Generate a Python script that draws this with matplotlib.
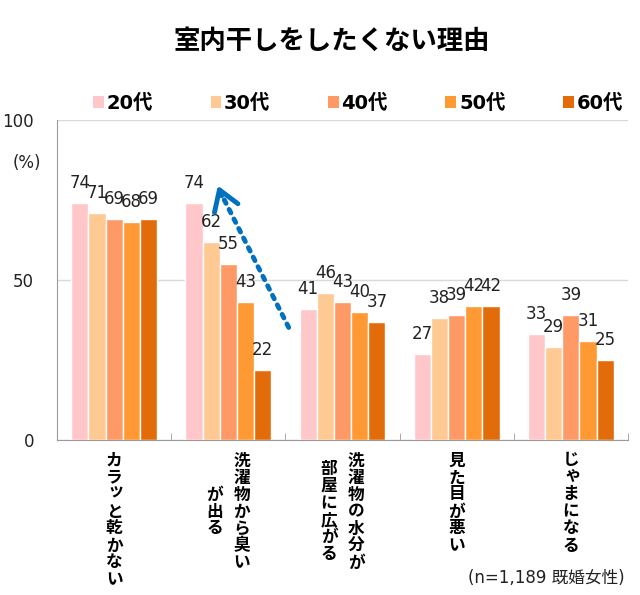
import matplotlib
matplotlib.use('Agg')
import matplotlib.pyplot as plt
from matplotlib.patches import Patch
import numpy as np

plt.rcParams['font.family'] = ['DejaVu Sans', 'Noto Sans CJK JP']

# データ
categories = [['カラッと乾かない'],
              ['洗濯物から臭い', 'が出る'],
              ['洗濯物の水分が', '部屋に広がる'],
              ['見た目が悪い'],
              ['じゃまになる']]
ages = ['20代', '30代', '40代', '50代', '60代']
values = np.array([
    [74, 74, 41, 27, 33],   # 20代
    [71, 62, 46, 38, 29],   # 30代
    [69, 55, 43, 39, 39],   # 40代
    [68, 43, 40, 42, 31],   # 50代
    [69, 22, 37, 42, 25],   # 60代
])
colors = ['#FFC7C9', '#FFC994', '#FF9966', '#FF9933', '#E36C0A']
yticks = [0, 50, 100]

W, H = 640, 595
fig = plt.figure(figsize=(W / 100, H / 100), dpi=100)
ax = fig.add_axes([57 / W, (H - 440) / H, (628 - 57) / W, 320 / H])

x = np.arange(len(categories))
width = 0.15

for j, age in enumerate(ages):
    bars = ax.bar(x + (j - 2) * width, values[j], width, color=colors[j],
                  edgecolor='white', linewidth=1, label=age, zorder=3)
    for rect, v in zip(bars, values[j]):
        ax.annotate(str(v), xy=(rect.get_x() + rect.get_width() / 2, v),
                    xytext=(0, 15), textcoords='offset pixels',
                    ha='center', va='baseline', fontsize=12, color='#222222',
                    zorder=4)

ax.set_xlim(-0.5, len(categories) - 0.5)
ax.set_ylim(0, 100)

# 軸・グリッド
for s in ['top', 'right']:
    ax.spines[s].set_visible(False)
ax.spines['left'].set_color('#9A9A9A')
ax.spines['bottom'].set_color('#9A9A9A')
ax.set_yticks(yticks)
ax.set_yticklabels([str(t) for t in yticks], fontsize=12, color='#222222')
ax.tick_params(axis='y', length=0, pad=16.5)
ax.yaxis.grid(True, color='#D9D9D9', linewidth=1, zorder=0)
ax.set_xticks(x)
ax.set_xticklabels([])
ax.tick_params(axis='x', which='major', length=0)
ax.set_xticks(np.arange(len(categories)) + 0.5, minor=True)
ax.tick_params(axis='x', which='minor', direction='in', length=5,
               color='#9A9A9A')

fig.text(27 / W, 1 - 163 / H, '(%)', ha='center', va='center',
         fontsize=12, color='#222222')

# 矢印
ax.annotate('', xy=(0.93, 77.5), xytext=(1.54, 34.4),
            arrowprops=dict(arrowstyle='-', linestyle=(0, (0.8, 1.4)),
                            lw=3.5, color='#0070C0'), zorder=5)
ax.annotate('', xy=(0.90, 80.3), xytext=(0.95, 75.5),
            arrowprops=dict(arrowstyle='->,head_length=0.7,head_width=0.45',
                            lw=3.5, color='#0070C0', mutation_scale=20),
            zorder=5)

# 縦書きラベル
pitch = 17
small = set('ッゃゅょっ')
for i, cols in enumerate(categories):
    n = len(cols)
    maxlen = max(len(c) for c in cols)
    for k, col in enumerate(cols):
        dx = (n - 1) / 2 * 27 - k * 27
        start = (maxlen - len(col)) / 2
        for m, ch in enumerate(col):
            dy = -(20.5 + (start + m) * pitch)
            sx, sy = (1.5, 3) if ch in small else (0, 0)
            ax.annotate(ch, xy=(i, 0), xycoords=('data', 'axes fraction'),
                        xytext=(dx + sx, dy + sy), textcoords='offset pixels',
                        ha='center', va='center', fontsize=12,
                        fontweight='bold', family='Noto Sans CJK JP',
                        annotation_clip=False)

fig.text(625 / W, 1 - 578 / H, '(n=1,189 既婚女性)', ha='right',
         va='center', fontsize=12, color='#222222')

# タイトル
fig.text(332 / W, 1 - 41 / H, '室内干しをしたくない理由', ha='center',
         va='center', fontsize=19, fontweight='bold',
         family='Noto Sans CJK JP')

# 凡例
handles = [Patch(facecolor=c, edgecolor='none') for c in colors]
fig.legend(handles, ages, loc='center', ncol=5,
           bbox_to_anchor=(358 / W, 1 - 103 / H), frameon=False,
           prop={'size': 14, 'weight': 'bold'},
           handlelength=0.55, handleheight=0.55, handletextpad=0.15,
           columnspacing=2.95)

fig.savefig('out.png', dpi=100, facecolor='white')
